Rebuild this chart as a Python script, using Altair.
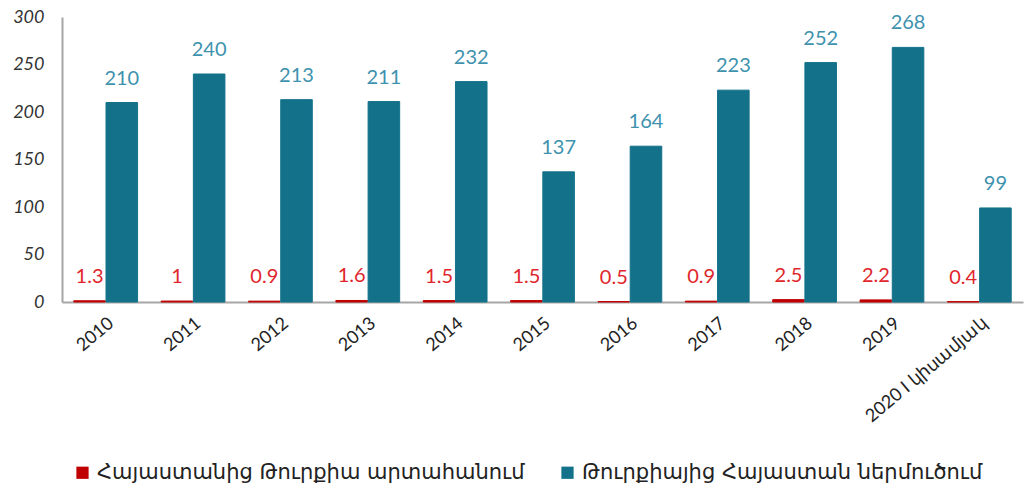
import altair as alt
import pandas as pd

categories = ["2010", "2011", "2012", "2013", "2014", "2015", "2016", "2017", "2018", "2019", "2020 I կիսամյակ"]
export_vals = [1.3, 1, 0.9, 1.6, 1.5, 1.5, 0.5, 0.9, 2.5, 2.2, 0.4]
import_vals = [210, 240, 213, 211, 232, 137, 164, 223, 252, 268, 99]
series_names = ["Հայաստանից Թուրքիա արտահանում", "Թուրքիայից Հայաստան ներմուծում"]

rows = []
for c, e, i in zip(categories, export_vals, import_vals):
    rows.append({"cat": c, "series": series_names[0], "value": e, "label": f"{e:g}"})
    rows.append({"cat": c, "series": series_names[1], "value": i, "label": f"{i:g}"})
df = pd.DataFrame(rows)

bar_colors = ["#C00000", "#13728A"]
label_colors = ["#E0262C", "#3E92AE"]

x = alt.X("cat:N", sort=categories, title=None,
          scale=alt.Scale(paddingInner=0.27, paddingOuter=0.135),
          axis=alt.Axis(labelAngle=-40, labelFontSize=18, labelColor="#222222",
                        labelFont="Lato", labelPadding=12, ticks=False,
                        domainColor="#A6A6A6", domainWidth=2, labelLimit=300))
xo = alt.XOffset("series:N", sort=series_names, scale=alt.Scale(paddingInner=0.02))
y = alt.Y("value:Q", title=None,
          scale=alt.Scale(domain=[0, 300]),
          axis=alt.Axis(values=[0, 50, 100, 150, 200, 250, 300], grid=False, ticks=False,
                        labelFontSize=18, labelFontStyle="italic", labelFont="Lato",
                        labelColor="#333333", labelPadding=18,
                        domainColor="#A6A6A6", domainWidth=2))

bars = alt.Chart(df).mark_bar(strokeWidth=1).encode(
    x=x, xOffset=xo, y=y,
    color=alt.Color("series:N", sort=series_names,
                    scale=alt.Scale(domain=series_names, range=bar_colors),
                    legend=alt.Legend(title=None, orient="none", direction="horizontal",
                                      legendX=10, legendY=445, symbolType="square",
                                      symbolSize=150, symbolStrokeWidth=0,
                                      labelFontSize=21, labelFont="DejaVu Sans",
                                      labelColor="#222222", columnPadding=32,
                                      labelLimit=500)),
    stroke=alt.Color("series:N", sort=series_names,
                     scale=alt.Scale(domain=series_names, range=bar_colors), legend=None),
)

text = alt.Chart(df).mark_text(dy=-24, fontSize=20, font="Lato", baseline="middle").encode(
    x=alt.X("cat:N", sort=categories), xOffset=xo, y="value:Q",
    text="label:N",
    color=alt.Color("series:N", sort=series_names,
                    scale=alt.Scale(domain=series_names, range=label_colors), legend=None),
)

chart = alt.layer(bars, text).resolve_scale(color="independent", stroke="independent").properties(
    width=961, height=285,
    autosize=alt.AutoSizeParams(type="none"),
    padding={"left": 62, "top": 17, "right": 6, "bottom": 188},
).configure_view(stroke=None)

chart.save("out.html", embed_options={"renderer": "svg", "actions": False})
